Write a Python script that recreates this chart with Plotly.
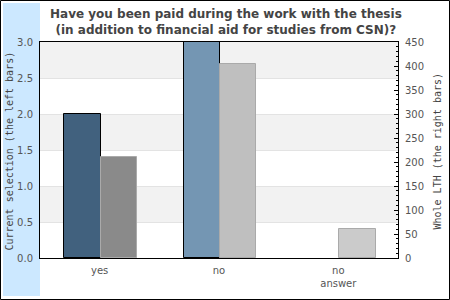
import plotly.graph_objects as go

categories = ["yes", "no", "no<br>answer"]
current_values = [2.0, 3.0, 0.0]
whole_values = [210, 405, 60]
current_colors = ["#41617e", "#7496b3", "#7496b3"]
whole_colors = ["#8a8a8a", "#bfbfbf", "#cbcbcb"]
left_ticks = [0, 0.5, 1.0, 1.5, 2.0, 2.5, 3.0]
right_ticks = [0, 50, 100, 150, 200, 250, 300, 350, 400, 450]
title_text = "Have you been paid during the work with the thesis<br>(in addition to financial aid for studies from CSN)?"

W, H = 450, 300
L, R, T, B = 40, 52, 42, 42
pw, ph = W - L - R, H - T - B

def px_x(x):
    return (x - L) / pw

def px_y(y):
    return (H - B - y) / ph

xs = list(range(len(categories)))
bw = 0.305

fig = go.Figure()
fig.add_trace(go.Bar(
    x=xs, y=current_values, width=bw, offset=-bw + 0.008,
    marker=dict(color=current_colors,
                line=dict(color="black", width=[1 if v > 0 else 0 for v in current_values])),
    yaxis="y", showlegend=False, hoverinfo="skip"))
fig.add_trace(go.Bar(
    x=xs, y=whole_values, width=bw, offset=0.008,
    marker=dict(color=whole_colors, line=dict(color="#aaaaaa", width=1)),
    yaxis="y2", showlegend=False, hoverinfo="skip"))

shapes = []
for lo, hi in [(2.5, 3.0), (1.5, 2.0), (0.5, 1.0)]:
    shapes.append(dict(type="rect", xref="paper", yref="y", x0=0, x1=1, y0=lo, y1=hi,
                       fillcolor="#f2f2f2", line=dict(width=0), layer="below"))
shapes.append(dict(type="rect", xref="paper", yref="paper",
                   x0=px_x(3), x1=px_x(40), y0=px_y(296), y1=px_y(3),
                   fillcolor="#cce8ff", line=dict(width=0), layer="below"))
shapes.append(dict(type="rect", xref="paper", yref="paper",
                   x0=px_x(0.5), x1=px_x(449.5), y0=px_y(299.5), y1=px_y(0.5),
                   fillcolor="rgba(0,0,0,0)", line=dict(color="black", width=1), layer="above"))

annotations = [
    dict(text=title_text, xref="paper", yref="paper",
         x=px_x(226), y=px_y(5), xanchor="center", yanchor="top", showarrow=False,
         align="center",
         font=dict(family="DejaVu Sans", size=12, color="#444444", weight="bold")),
    dict(text="Current selection (the left bars)", textangle=-90, xref="paper", yref="paper",
         x=px_x(9), y=px_y(151.5), xanchor="center", yanchor="middle", showarrow=False,
         font=dict(family="DejaVu Sans Mono", size=10, color="#444444")),
    dict(text="Whole LTH (the right bars)", textangle=-90, xref="paper", yref="paper",
         x=px_x(437), y=px_y(151.5), xanchor="center", yanchor="middle", showarrow=False,
         font=dict(family="DejaVu Sans Mono", size=10, color="#444444")),
]

fig.update_layout(
    width=W, height=H, margin=dict(l=L, r=R, t=T, b=B, pad=0),
    paper_bgcolor="white", plot_bgcolor="white",
    barmode="overlay", bargap=0,
    font=dict(family="DejaVu Sans", size=10, color="#555555"),
    shapes=shapes, annotations=annotations,
    xaxis=dict(range=[-0.5, 2.5], tickvals=xs, ticktext=categories, ticks="",
               showgrid=False, zeroline=False, showline=True, linecolor="black",
               linewidth=1, mirror=True, tickfont=dict(size=10, color="#555555"),
               ticklabelstandoff=3),
    yaxis=dict(range=[0, 3], tickvals=left_ticks, tickformat=".1f", ticks="",
               showgrid=True, gridcolor="#e3e3e3", gridwidth=1, zeroline=False,
               showline=True, linecolor="black", linewidth=1,
               tickfont=dict(size=10, color="#555555"), ticklabelstandoff=4),
    yaxis2=dict(range=[0, 450], tickvals=right_ticks, overlaying="y", side="right",
                showgrid=False, zeroline=False, showline=True, linecolor="black", linewidth=1,
                ticks="inside", ticklen=4, tickcolor="black",
                minor=dict(ticks="inside", dtick=10, ticklen=2, tickcolor="black"),
                tickfont=dict(size=10, color="#555555"), ticklabelstandoff=4),
)

fig.write_html("out.html")
